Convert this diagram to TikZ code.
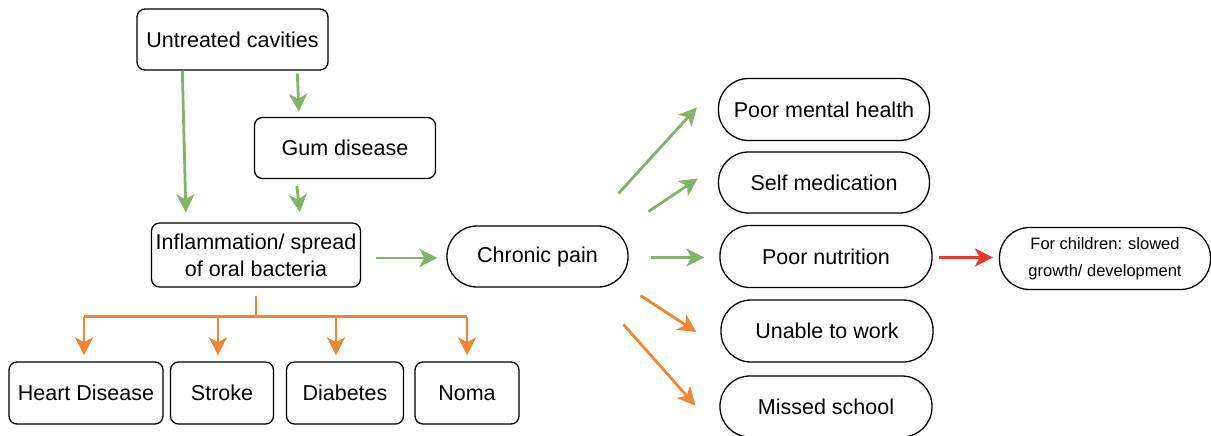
\documentclass[tikz,border=0pt]{standalone}
\usepackage{fontspec}
\setmainfont{Liberation Sans}
\usetikzlibrary{arrows.meta,calc,positioning}
\definecolor{gline}{HTML}{82B366}
\definecolor{oline}{HTML}{EE8632}
\definecolor{rline}{HTML}{E8382A}
\tikzset{
  box/.style={draw=black, line width=1.3pt, rounded corners=8pt, fill=white,
    align=center, inner sep=0pt, font=\fontsize{21.5}{26}\selectfont},
  pill/.style={box, rounded corners=30pt},
  conn/.style={line width=2.8pt, -{Stealth[length=18pt,width=18pt,inset=5pt]}},
  garrow/.style={conn, draw=gline, fill=gline},
  oarrow/.style={conn, draw=oline, fill=oline},
  rarrow/.style={conn, draw=rline, fill=rline},
  oline/.style={line width=2.8pt, draw=oline},
}
\begin{document}
\begin{tikzpicture}[x=1pt,y=-1pt]
\useasboundingbox (0,0) rectangle (1211,436);
% left column
\node[box, minimum width=191pt, minimum height=61pt] (cav) at (232.5,39.5) {Untreated cavities};
\node[box, minimum width=181pt, minimum height=61pt] (gum) at (345,148) {Gum disease};
\node[box, minimum width=209pt, minimum height=64pt, font=\fontsize{21.5}{27}\selectfont] (inf) at (256,255) {Inflammation/ spread\\of oral bacteria};
\node[pill, minimum width=181pt, minimum height=61pt] (pain) at (537.5,256.5) {Chronic pain};
% bottom row
\node[box, minimum width=154pt, minimum height=62pt] (heart) at (86,393) {Heart Disease};
\node[box, minimum width=103pt, minimum height=62pt] (stroke) at (222,393) {Stroke};
\node[box, minimum width=117pt, minimum height=62pt] (diab) at (345,393) {Diabetes};
\node[box, minimum width=104pt, minimum height=62pt] (noma) at (467,393) {Noma};
% right column
\node[pill, minimum width=211pt, minimum height=62pt] (pmh) at (824,109.5) {Poor mental health};
\node[pill, minimum width=211pt, minimum height=61pt] (self) at (824,182.5) {Self medication};
\node[pill, minimum width=212pt, minimum height=62pt] (nut) at (826,256.5) {Poor nutrition};
\node[pill, minimum width=212pt, minimum height=62pt] (work) at (827,331) {Unable to work};
\node[pill, minimum width=212pt, minimum height=61pt] (school) at (826,406.5) {Missed school};
\node[pill, minimum width=211pt, minimum height=62pt, font=\fontsize{16.5}{27}\selectfont] (kids) at (1105,258.5) {For children: slowed\\growth/ development};
% green connectors
\draw[garrow] ($(cav.south west)+(46,0)$) -- ($(inf.north west)+(35,-10)$);
\draw[garrow] ($(cav.south west)+(161,3)$) -- ($(gum.north west)+(45,-5)$);
\draw[garrow] ($(gum.south west)+(43,7)$) -- ($(inf.north west)+(149,-10)$);
\draw[garrow] ($(inf.east)+(15,3)$) -- ($(pain.west)+(-9,1.5)$);
\draw[garrow] ($(pain.center)+(81,-63)$) -- ($(pmh.west)+(-21,-2)$);
\draw[garrow] ($(pain.center)+(111,-45)$) -- ($(self.west)+(-20,-4)$);
\draw[garrow] ($(pain.east)+(22,1)$) -- ($(nut.west)+(-15,1)$);
% red
\draw[rarrow] ($(nut.east)+(6,1)$) -- ($(kids.west)+(-6,-1)$);
% orange right
\draw[oarrow] ($(pain.center)+(103,39)$) -- ($(work.west)+(-24,1)$);
\draw[oarrow] ($(pain.center)+(86,68)$) -- ($(school.west)+(-24,-1)$);
% orange tree
\coordinate (fork) at ($(inf.south)+(0,29)$);
\draw[oline] ($(inf.south)+(0,8)$) -- (fork);
\draw[oline] (fork -| heart.north) ++(-2,0) coordinate (b1) -- ($(fork -| noma.north)$) coordinate (b4);
\coordinate (b2) at ($(fork -| stroke.north)+(-4,0)$);
\coordinate (b3) at ($(fork -| diab.north)+(-9,0)$);
\draw[oarrow] (b1) -- ($(heart.north)+(-2,-6)$);
\draw[oarrow] (b2) -- ($(stroke.north)+(-4,-6)$);
\draw[oarrow] (b3) -- ($(diab.north)+(-9,-6)$);
\draw[oarrow] (b4) -- ($(noma.north)+(0,-6)$);
\end{tikzpicture}
\end{document}
